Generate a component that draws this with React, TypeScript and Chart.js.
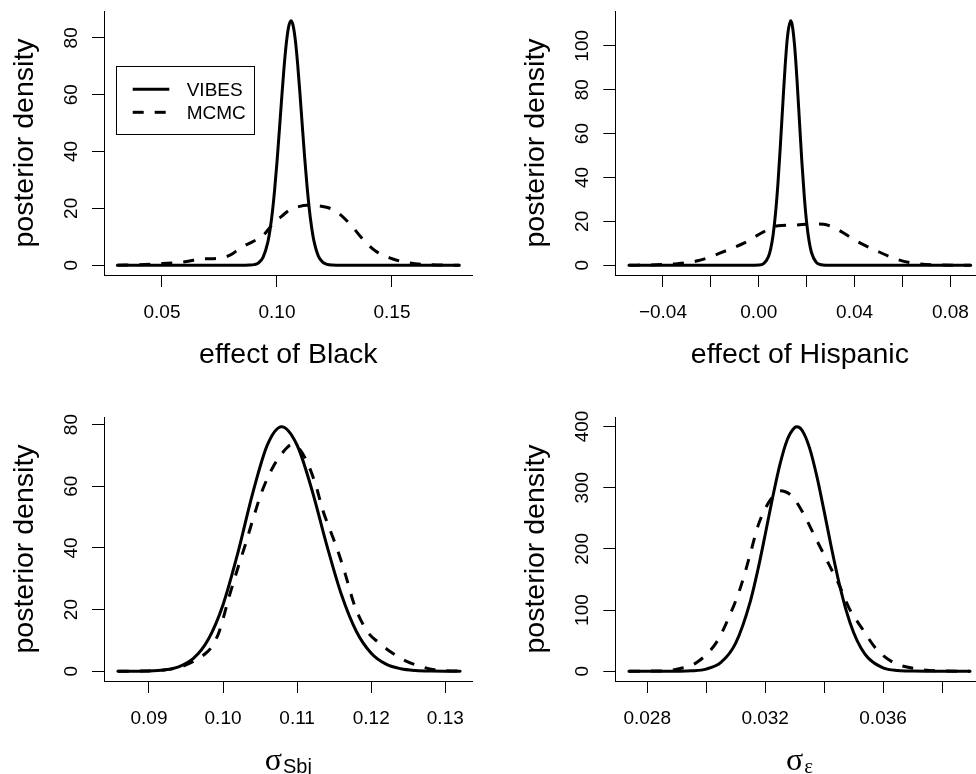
import React, { useEffect, useRef } from "react";
import { Chart, registerables } from "chart.js";

Chart.register(...registerables);

const SANS = '"Liberation Sans", Arial, Helvetica, sans-serif';
const SERIF = '"Liberation Serif", "DejaVu Serif", serif';

// ---------- Panel 1: effect of Black ----------
const blackVibesX = [0.0306, 0.08, 0.086, 0.088, 0.09, 0.092, 0.094, 0.096, 0.097, 0.098, 0.099, 0.1, 0.101, 0.102, 0.103, 0.104, 0.105, 0.1061, 0.107, 0.108, 0.109, 0.11, 0.111, 0.112, 0.113, 0.114, 0.115, 0.116, 0.118, 0.12, 0.122, 0.124, 0.126, 0.132, 0.1793];
const blackVibesY = [0, 0, 0.01, 0.04, 0.21, 0.85, 2.87, 8.05, 12.6, 18.7, 26.7, 36.2, 47.0, 58.2, 68.8, 77.6, 83.6, 86.0, 84.4, 79.1, 70.7, 60.4, 49.2, 38.3, 28.5, 20.2, 13.7, 8.83, 3.21, 0.97, 0.24, 0.05, 0.01, 0, 0];
const blackMcmcX = [0.0306, 0.04, 0.05, 0.06, 0.067, 0.075, 0.08, 0.084, 0.09, 0.094, 0.098, 0.102, 0.106, 0.109, 0.113, 0.117, 0.122, 0.126, 0.132, 0.1375, 0.143, 0.149, 0.156, 0.165, 0.1793];
const blackMcmcY = [0, 0.2, 0.6, 1.2, 2.2, 2.5, 3.7, 6.0, 8.5, 10.5, 14.3, 17.2, 19.7, 20.5, 21.1, 21.0, 20.3, 18.8, 14.3, 9.0, 4.9, 2.6, 1.0, 0.2, 0];
const blackXTicks = [0.05, 0.1, 0.15];
const blackXLabels = ["0.05", "0.10", "0.15"];
const blackYTicks = [0, 20, 40, 60, 80];

// ---------- Panel 2: effect of Hispanic ----------
const hispVibesX = [-0.0542, -0.004, 0, 0.002, 0.004, 0.005, 0.006, 0.007, 0.008, 0.009, 0.01, 0.011, 0.012, 0.0133, 0.014, 0.015, 0.016, 0.017, 0.018, 0.019, 0.02, 0.021, 0.022, 0.024, 0.026, 0.028, 0.032, 0.0885];
const hispVibesY = [0, 0, 0.11, 0.76, 3.81, 7.58, 13.9, 23.7, 37.2, 54.2, 72.8, 90.6, 104.3, 111.4, 109.3, 99.5, 83.8, 65.3, 47.0, 31.4, 19.3, 11.0, 5.81, 1.28, 0.21, 0.02, 0, 0];
const hispMcmcX = [-0.0542, -0.045, -0.034, -0.0255, -0.02, -0.016, -0.006, 0.002, 0.008, 0.015, 0.022, 0.027, 0.033, 0.041, 0.0495, 0.058, 0.066, 0.075, 0.0885];
const hispMcmcY = [0, 0.15, 0.7, 2.0, 3.9, 5.6, 10.2, 15.2, 18.0, 18.3, 18.8, 18.7, 16.2, 10.9, 6.4, 2.6, 0.7, 0.1, 0];
const hispXTicks = [-0.04, -0.02, 0, 0.02, 0.04, 0.06, 0.08];
const hispXLabels = ["\u22120.04", "", "0.00", "", "0.04", "", "0.08"];
const hispYTicks = [0, 20, 40, 60, 80, 100];

// ---------- Panel 3: sigma_Sbj ----------
const sbjVibesX = [0.0858, 0.09, 0.092, 0.094, 0.096, 0.098, 0.1, 0.102, 0.104, 0.106, 0.1079, 0.11, 0.112, 0.114, 0.116, 0.118, 0.12, 0.122, 0.124, 0.126, 0.128, 0.132];
const sbjVibesY = [0, 0.1, 0.41, 1.42, 4.15, 10.3, 21.6, 38.4, 57.7, 73.5, 79.3, 73.3, 58.8, 40.9, 24.7, 12.9, 5.85, 2.3, 0.79, 0.23, 0.06, 0];
const sbjMcmcX = [0.0858, 0.09, 0.094, 0.096, 0.0975, 0.0985, 0.0995, 0.1008, 0.102, 0.103, 0.104, 0.1052, 0.1068, 0.108, 0.1093, 0.1105, 0.1115, 0.1125, 0.1135, 0.1145, 0.1155, 0.1165, 0.1178, 0.1195, 0.121, 0.1225, 0.1245, 0.1262, 0.1285, 0.132];
const sbjMcmcY = [0, 0.1, 1.2, 3.2, 5.5, 8.0, 13.0, 24.0, 33.5, 41.0, 49.0, 58.0, 66.5, 70.8, 73.5, 71.5, 67.0, 60.5, 52.0, 45.5, 39.0, 31.5, 21.0, 12.8, 9.3, 6.5, 3.5, 1.9, 0.5, 0];
const sbjXTicks = [0.09, 0.1, 0.11, 0.12, 0.13];
const sbjXLabels = ["0.09", "0.10", "0.11", "0.12", "0.13"];
const sbjYTicks = [0, 20, 40, 60, 80];

// ---------- Panel 4: sigma_epsilon ----------
const epsVibesX = [0.02738, 0.0285, 0.029, 0.0295, 0.03, 0.0305, 0.031, 0.0315, 0.03175, 0.032, 0.03225, 0.0325, 0.03275, 0.033, 0.03308, 0.03325, 0.0335, 0.03375, 0.034, 0.03425, 0.0345, 0.03475, 0.035, 0.03525, 0.0355, 0.036, 0.0365, 0.037, 0.0375, 0.03895];
const epsVibesY = [0, 0.01, 0.1, 0.66, 3.5, 14.3, 45.9, 114.7, 165, 223, 283.1, 337.7, 378.4, 398.2, 399.5, 393.8, 365.8, 319.2, 261.6, 201.5, 145.8, 99, 63.2, 37.9, 21.4, 5.6, 1.15, 0.18, 0.02, 0];
const epsMcmcX = [0.02738, 0.0285, 0.029, 0.0297, 0.03036, 0.03075, 0.03115, 0.03148, 0.03176, 0.03205, 0.03233, 0.0325, 0.03289, 0.03328, 0.03373, 0.03418, 0.03452, 0.03486, 0.0353, 0.03576, 0.03632, 0.03711, 0.038, 0.03895];
const epsMcmcY = [0, 0.5, 3.2, 15, 48, 86, 135, 189, 238, 270, 289, 295, 287, 259, 216, 173, 140, 102, 69, 37, 15, 4, 0.5, 0];
const epsXTicks = [0.028, 0.03, 0.032, 0.034, 0.036, 0.038];
const epsXLabels = ["0.028", "", "0.032", "", "0.036", ""];
const epsYTicks = [0, 100, 200, 300, 400];

type XTitle = { main: string; sub?: string; subSerif?: boolean };

type PanelProps = {
  left: number;
  top: number;
  width: number;
  height: number;
  pad: { left: number; right: number; top: number; bottom: number };
  xRange: [number, number];
  yRange: [number, number];
  vibesX: number[];
  vibesY: number[];
  mcmcX: number[];
  mcmcY: number[];
  xTicks: number[];
  xLabels: string[];
  yTicks: number[];
  xTitle: XTitle;
  legend?: boolean;
};

function Panel(p: PanelProps) {
  const ref = useRef<HTMLCanvasElement | null>(null);

  useEffect(() => {
    if (!ref.current) return;
    const textPlugin = {
      id: "rtext" + p.left + "_" + p.top,
      afterDraw(chart: any) {
        const ctx: CanvasRenderingContext2D = chart.ctx;
        const a = chart.chartArea;
        const xs = chart.scales.x;
        const ys = chart.scales.y;
        ctx.save();
        ctx.fillStyle = "#000";
        ctx.strokeStyle = "#000";
        ctx.font = `19px ${SANS}`;
        ctx.textAlign = "center";
        ctx.textBaseline = "alphabetic";
        p.xTicks.forEach((v, i) => {
          const lab = p.xLabels[i];
          if (lab) ctx.fillText(lab, xs.getPixelForValue(v), a.bottom + 43);
        });
        p.yTicks.forEach((v) => {
          const py = ys.getPixelForValue(v);
          ctx.save();
          ctx.translate(a.left - 27, py);
          ctx.rotate(-Math.PI / 2);
          ctx.fillText(String(v), 0, 0);
          ctx.restore();
        });
        // y title
        ctx.font = `28.5px ${SANS}`;
        ctx.save();
        ctx.translate(a.left - 71, (a.top + a.bottom) / 2);
        ctx.rotate(-Math.PI / 2);
        ctx.fillText("posterior density", 0, 0);
        ctx.restore();
        // x title
        const cx = (a.left + a.right) / 2;
        if (!p.xTitle.sub) {
          ctx.fillText(p.xTitle.main, cx, a.bottom + 88);
        } else {
          const mainFont = `32px ${SERIF}`;
          const subFont = p.xTitle.subSerif ? `21px ${SERIF}` : `20px ${SANS}`;
          ctx.font = mainFont;
          const w1 = ctx.measureText(p.xTitle.main).width;
          ctx.font = subFont;
          const w2 = ctx.measureText(p.xTitle.sub).width;
          const x0 = cx - (w1 + w2 + 1) / 2;
          ctx.textAlign = "left";
          ctx.font = mainFont;
          ctx.fillText(p.xTitle.main, x0, a.bottom + 89);
          ctx.font = subFont;
          ctx.fillText(p.xTitle.sub, x0 + w1 + 1, a.bottom + 92);
        }
        // legend
        if (p.legend) {
          ctx.lineWidth = 1;
          ctx.strokeRect(Math.round(a.left + 12) + 0.5, Math.round(a.top + 55) + 0.5, 138, 68);
          ctx.lineWidth = 3;
          ctx.lineCap = "butt";
          ctx.beginPath();
          ctx.moveTo(a.left + 28.7, a.top + 78.3);
          ctx.lineTo(a.left + 65.3, a.top + 78.3);
          ctx.stroke();
          ctx.setLineDash([11, 11]);
          ctx.beginPath();
          ctx.moveTo(a.left + 28.7, a.top + 101.3);
          ctx.lineTo(a.left + 65.3, a.top + 101.3);
          ctx.stroke();
          ctx.setLineDash([]);
          ctx.font = `19px ${SANS}`;
          ctx.textAlign = "left";
          ctx.fillText("VIBES", a.left + 82.7, a.top + 85);
          ctx.fillText("MCMC", a.left + 82.7, a.top + 108.3);
        }
        ctx.restore();
      },
    };

    const axisCommon = {
      type: "linear" as const,
      ticks: { display: false },
      grid: {
        display: true,
        drawOnChartArea: false,
        drawTicks: true,
        tickLength: 12,
        color: "#000",
        lineWidth: 1,
      },
      border: { display: true, color: "#000", width: 1 },
      title: { display: false },
    };

    const chart = new Chart(ref.current, {
      type: "line",
      data: {
        datasets: [
          {
            label: "MCMC",
            data: p.mcmcX.map((x, i) => ({ x, y: p.mcmcY[i] })),
            borderColor: "#000",
            borderWidth: 3,
            borderDash: [11, 11],
            borderCapStyle: "butt",
            borderJoinStyle: "round",
            pointRadius: 0,
            fill: false,
            cubicInterpolationMode: "monotone",
          },
          {
            label: "VIBES",
            data: p.vibesX.map((x, i) => ({ x, y: p.vibesY[i] })),
            borderColor: "#000",
            borderWidth: 3,
            borderCapStyle: "round",
            borderJoinStyle: "round",
            pointRadius: 0,
            fill: false,
            cubicInterpolationMode: "monotone",
          },
        ],
      },
      options: {
        responsive: false,
        maintainAspectRatio: false,
        animation: false,
        events: [],
        layout: { padding: p.pad },
        plugins: {
          legend: { display: false },
          tooltip: { enabled: false },
          title: { display: false },
        },
        scales: {
          x: {
            ...axisCommon,
            position: "bottom",
            min: p.xRange[0],
            max: p.xRange[1],
            afterBuildTicks: (s: any) => {
              s.ticks = p.xTicks.map((v) => ({ value: v }));
            },
            afterFit: (s: any) => {
              s.height = 12;
            },
          },
          y: {
            ...axisCommon,
            position: "left",
            min: p.yRange[0],
            max: p.yRange[1],
            afterBuildTicks: (s: any) => {
              s.ticks = p.yTicks.map((v) => ({ value: v }));
            },
            afterFit: (s: any) => {
              s.width = 12;
            },
          },
        },
      } as any,
      plugins: [textPlugin],
    });
    return () => chart.destroy();
  }, []);

  return (
    <canvas
      ref={ref}
      width={p.width}
      height={p.height}
      style={{ position: "absolute", left: p.left, top: p.top, width: p.width, height: p.height }}
    />
  );
}

export default function App() {
  return (
    <div
      style={{
        position: "absolute",
        left: 0,
        top: 0,
        width: 976,
        height: 774,
        overflow: "hidden",
        background: "#fff",
      }}
    >
      <Panel
        left={0}
        top={0}
        width={488}
        height={387}
        pad={{ left: 92, right: 15.3, top: 11, bottom: 100 }}
        xRange={[0.0248, 0.1851]}
        yRange={[-3.44, 89.44]}
        vibesX={blackVibesX}
        vibesY={blackVibesY}
        mcmcX={blackMcmcX}
        mcmcY={blackMcmcY}
        xTicks={blackXTicks}
        xLabels={blackXLabels}
        yTicks={blackYTicks}
        xTitle={{ main: "effect of Black" }}
        legend
      />
      <Panel
        left={488}
        top={0}
        width={500}
        height={387}
        pad={{ left: 115.3, right: 3.6, top: 11, bottom: 100 }}
        xRange={[-0.0599, 0.0942]}
        yRange={[-4.46, 115.86]}
        vibesX={hispVibesX}
        vibesY={hispVibesY}
        mcmcX={hispMcmcX}
        mcmcY={hispMcmcY}
        xTicks={hispXTicks}
        xLabels={hispXLabels}
        yTicks={hispYTicks}
        xTitle={{ main: "effect of Hispanic" }}
      />
      <Panel
        left={0}
        top={387}
        width={488}
        height={387}
        pad={{ left: 92, right: 15.3, top: 30, bottom: 81 }}
        xRange={[0.08393, 0.1337]}
        yRange={[-3.17, 82.47]}
        vibesX={sbjVibesX}
        vibesY={sbjVibesY}
        mcmcX={sbjMcmcX}
        mcmcY={sbjMcmcY}
        xTicks={sbjXTicks}
        xLabels={sbjXLabels}
        yTicks={sbjYTicks}
        xTitle={{ main: "\u03c3", sub: "Sbj" }}
      />
      <Panel
        left={488}
        top={387}
        width={500}
        height={387}
        pad={{ left: 115.3, right: 4.3, top: 30, bottom: 81 }}
        xRange={[0.026917, 0.039413]}
        yRange={[-15.98, 415.5]}
        vibesX={epsVibesX}
        vibesY={epsVibesY}
        mcmcX={epsMcmcX}
        mcmcY={epsMcmcY}
        xTicks={epsXTicks}
        xLabels={epsXLabels}
        yTicks={epsYTicks}
        xTitle={{ main: "\u03c3", sub: "\u03b5", subSerif: true }}
      />
    </div>
  );
}
